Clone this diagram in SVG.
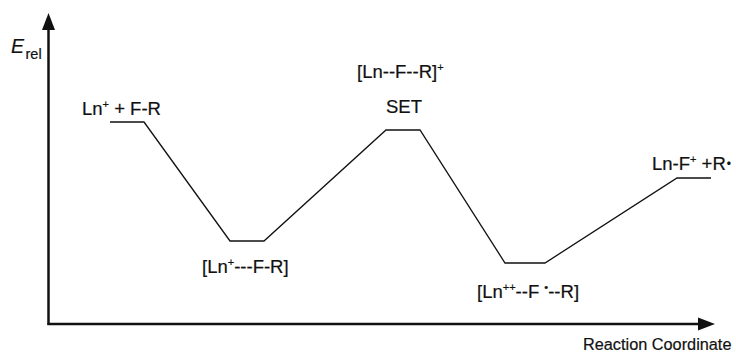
<svg xmlns="http://www.w3.org/2000/svg" width="736" height="359" viewBox="0 0 736 359">
<style>
.t{font-family:"Liberation Sans",Arial,sans-serif;font-size:18.5px;fill:#111;stroke:#111;stroke-width:0.2}
.sup{font-size:11px}
.ax{stroke:#111;stroke-width:2.5;fill:none}
.prof{stroke:#111;stroke-width:1.3;fill:none;stroke-linejoin:miter}
</style>
<rect width="736" height="359" fill="#fff"/>
<g id="axes">
<line class="ax" x1="48.5" y1="325" x2="48.5" y2="28"/>
<polygon points="48.5,13 42,30 55,30" fill="#111"/>
<line class="ax" x1="47.5" y1="324" x2="699" y2="324"/>
<polygon points="715,324 698,317.5 698,330.5" fill="#111"/>
<text class="t" x="11" y="53" style="font-style:italic;font-size:19.5px">E</text>
<text class="t" x="25.5" y="58.5" style="font-size:14.5px">rel</text>
<text class="t" x="583" y="350" style="font-size:16.3px">Reaction Coordinate</text>
</g>
<g id="connectors">
<path class="prof" d="M110,122 H144 L230,241 H264 L386,130 H420 L505,263 H545 L677,178 H711"/>
</g>
<g id="reactants">
<text class="t" x="82" y="115">Ln<tspan class="sup" dy="-7">+</tspan><tspan dy="7"> + F-R</tspan></text>
</g>
<g id="complex">
<text class="t" x="202" y="273">[Ln<tspan class="sup" dy="-7">+</tspan><tspan dy="7">---F-R]</tspan></text>
</g>
<g id="ts">
<text class="t" x="357" y="78">[Ln--F--R]<tspan class="sup" dy="-7">+</tspan></text>
<text class="t" x="404" y="113" text-anchor="middle">SET</text>
</g>
<g id="intermediate">
<text class="t" x="477" y="298">[Ln<tspan class="sup" dy="-7">++</tspan><tspan dy="7">--F </tspan><tspan class="sup" dy="-7">•</tspan><tspan dy="7">--R]</tspan></text>
</g>
<g id="products">
<text class="t" x="652" y="170">Ln-F<tspan class="sup" dy="-7">+</tspan><tspan dy="7"> +R</tspan><tspan style="font-size:12px" dx="1" dy="-2">•</tspan></text>
</g>
</svg>
